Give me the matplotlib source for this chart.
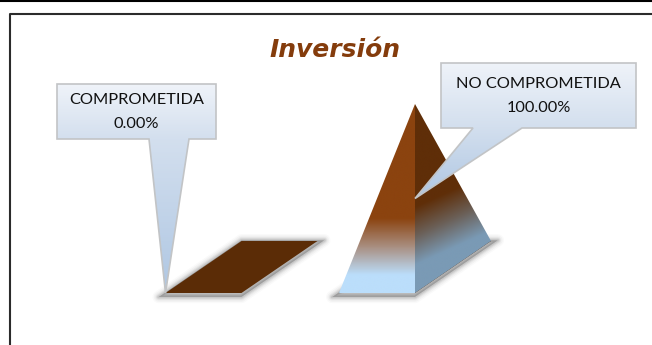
import numpy as np
import matplotlib
matplotlib.use('Agg')
import matplotlib.pyplot as plt
from matplotlib.colors import LinearSegmentedColormap
from matplotlib.patches import Polygon

categories = ['COMPROMETIDA', 'NO COMPROMETIDA']
values = [0.0, 100.0]
labels = ['0.00%', '100.00%']
title = 'Inversión'

W, H = 652, 345
PX_CAT = 173.5
PX_VAL = 1.63
X0, Y0 = 241.5, 267.0
HALF_W = 76 / PX_CAT
HALF_D = 26 / PX_VAL

BASE_COL = '#5b2c06'
left_cmap = LinearSegmentedColormap.from_list('l', ['#bbdefb', '#bbdefb', '#a98e80', '#8b430f', '#8b430f'], N=256)
right_cmap = LinearSegmentedColormap.from_list('r', ['#7a9ab5', '#7a9ab5', '#6b6058', '#5f2e08', '#5f2e08'], N=256)
box_cmap = LinearSegmentedColormap.from_list('b', ['#eff3f9', '#d3dfee', '#afc7e3'], N=256)

fig = plt.figure(figsize=(W / 100, H / 100), dpi=100)
plt.rcParams['font.family'] = ['Open Sans', 'DejaVu Sans']

# value axes: x in category units, y in value units
ax = fig.add_axes([0, 0, 1, 1])
ax.axis('off')

# overlay in pixels for frame and callouts
ov = fig.add_axes([0, 0, 1, 1])
ov.axis('off')
ov.patch.set_alpha(0)


def to_px(x, y):
    return (X0 + x * PX_CAT, Y0 - y * PX_VAL)


def shadow(pts):
    mid = pts.mean(axis=0)
    grown = mid + (pts - mid) * 1.09
    for lw, a in zip([9, 7, 5, 3.5, 2], [0.02, 0.03, 0.04, 0.06, 0.08]):
        ax.add_patch(Polygon(grown, closed=True, fill=True, fc='black', ec='black', lw=lw, alpha=a,
                             joinstyle='round', zorder=1))


def grad_face(pts, cmap, skew, low, high):
    xs = np.linspace(pts[:, 0].min(), pts[:, 0].max(), 200)
    ys = np.linspace(pts[:, 1].min(), pts[:, 1].max(), 400)
    gx, gy = np.meshgrid(xs, ys)
    t = np.clip((gy + skew * (gx - pts[:, 0].min()) - low) / (high - low), 0, 1)
    im = ax.imshow(t, extent=[xs[0], xs[-1], ys[0], ys[-1]], origin='lower', cmap=cmap, vmin=0, vmax=1,
                   aspect='auto', zorder=3, interpolation='bilinear')
    im.set_clip_path(Polygon(pts, closed=True, transform=ax.transData))


for i, v in enumerate(values):
    fl = (i - HALF_W, -HALF_D)
    fr = (i, -HALF_D)
    br = (i + HALF_W, HALF_D)
    bl = (i, HALF_D)
    base = np.array([fl, fr, br, bl])
    shadow(base + [0, -1])
    ax.add_patch(Polygon(base, closed=True, fc=BASE_COL, ec='none', zorder=2))
    if v > 0:
        apex = (i, v)
        grad_face(np.array([fl, fr, apex]), left_cmap, 0, -22.5, 47.5)
        grad_face(np.array([fr, br, apex]), right_cmap, -48, -17, 55)

ax.set_xlim(-X0 / PX_CAT, (W - X0) / PX_CAT)
ax.set_ylim((Y0 - H) / PX_VAL, Y0 / PX_VAL)

# frame
ov.plot([10, 10, W + 5], [H + 5, 14, 14], color='#2b2b2b', lw=1.5, clip_on=False)
ov.plot([0, W], [0.5, 0.5], color='black', lw=1.5)

# callouts
boxes = [(57, 216, 84, 139, 149, 189), (441, 636, 63, 128, 473, 522)]
tips = [to_px(0 - HALF_W, -HALF_D), to_px(1, values[1] * 0.5 - HALF_D * 0.5)]
for (x0, x1, y0, y1, b0, b1), tip, name, lab in zip(boxes, tips, categories, labels):
    pts = [(x0, y0), (x1, y0), (x1, y1), (b1, y1), tip, (b0, y1), (x0, y1)]
    bot = max(y1, tip[1])
    split = (y1 - y0) / (bot - y0)
    t = np.linspace(0, 1, 256).reshape(-1, 1)
    t = np.where(t < split, t / split * 0.5, 0.5 + 0.5 * (t - split) / (1 - split))
    im = ov.imshow(t, extent=[min(x0, tip[0]), x1, bot, y0], cmap=box_cmap, vmin=0, vmax=1, aspect='auto', zorder=5)
    ov.add_patch(Polygon(pts, closed=True, fc='none', ec='#c2c4c6', lw=1.2, zorder=6, joinstyle='miter'))
    im.set_clip_path(Polygon(pts, closed=True, transform=ov.transData))
    mid_x, mid_y = (x0 + x1) / 2, (y0 + y1) / 2
    ov.text(mid_x, mid_y - 11, name, ha='center', va='center', fontsize=11.8,
            family=['Lato', 'DejaVu Sans'], color='#111111', zorder=7)
    ov.text(mid_x, mid_y + 13, lab, ha='center', va='center', fontsize=11.8,
            family=['Lato', 'DejaVu Sans'], color='#111111', zorder=7)
ov.set_xlim(0, W)
ov.set_ylim(H, 0)

ov.text(335, 50, title, ha='center', va='center', fontsize=18, fontweight='bold', fontstyle='italic',
        family=['DejaVu Sans'], color='#843c0c', zorder=7)

fig.savefig('out.png', dpi=100)
